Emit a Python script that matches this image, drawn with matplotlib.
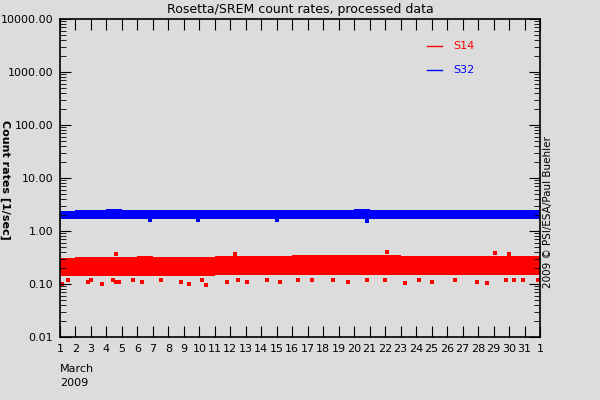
import matplotlib
matplotlib.use("Agg")
import matplotlib.pyplot as plt
import numpy as np

days = list(range(1, 33))
# daily envelope of processed count rates (1/sec)
s14_low  = [0.14,0.14,0.14,0.14,0.14,0.14,0.14,0.14,0.14,0.14,0.15,0.15,0.15,0.15,0.15,0.15,
            0.15,0.15,0.15,0.15,0.15,0.15,0.15,0.15,0.15,0.15,0.15,0.15,0.15,0.15,0.15]
s14_high = [0.31,0.32,0.32,0.33,0.32,0.34,0.33,0.33,0.33,0.33,0.34,0.34,0.34,0.34,0.34,0.35,
            0.35,0.35,0.35,0.35,0.35,0.35,0.34,0.34,0.34,0.34,0.34,0.34,0.34,0.34,0.34]
s32_low  = [1.65,1.68,1.68,1.68,1.70,1.66,1.70,1.70,1.70,1.70,1.70,1.70,1.70,1.70,1.68,1.70,
            1.70,1.70,1.70,1.70,1.70,1.70,1.70,1.70,1.70,1.66,1.70,1.70,1.70,1.70,1.70]
s32_high = [2.40,2.45,2.45,2.55,2.45,2.50,2.45,2.45,2.45,2.45,2.45,2.50,2.45,2.45,2.45,2.45,
            2.45,2.45,2.45,2.55,2.45,2.45,2.45,2.45,2.45,2.45,2.45,2.45,2.45,2.50,2.45]
# isolated outliers (day, value)
s14_out_x = [1.1,1.5,2.8,3.0,3.7,4.4,4.6,4.8,5.7,6.3,7.5,8.8,9.3,10.4,10.2,11.8,12.5,13.1,14.4,15.2,16.4,
             17.3,18.6,19.6,20.8,22.0,23.3,24.2,25.0,26.5,27.9,28.6,29.8,30.3,30.9,31.9,4.6,12.3,22.1,29.1,30.0]
s14_out_y = [0.10,0.12,0.11,0.12,0.10,0.12,0.11,0.11,0.12,0.11,0.12,0.11,0.10,0.095,0.12,0.11,0.12,0.11,0.12,0.11,0.12,
             0.12,0.12,0.11,0.12,0.12,0.105,0.12,0.11,0.12,0.11,0.105,0.12,0.12,0.12,0.12,0.37,0.37,0.41,0.39,0.37]
s32_out_x = [6.8,20.8,9.9,15.0]
s32_out_y = [1.58,1.52,1.60,1.60]
xticks = list(range(1, 33))
xticklabels = [str(d) for d in range(1, 32)] + ["1"]
yticks = [0.01, 0.1, 1, 10, 100, 1000, 10000]
yticklabels = ["0.01", "0.10", "1.00", "10.00", "100.00", "1000.00", "10000.00"]

bg = "#dcdcdc"
fig = plt.figure(figsize=(6, 4), dpi=100, facecolor=bg)
ax = fig.add_axes([0.1, 0.1575, 0.8, 0.795], facecolor=bg)
x = np.array(days[:-1]); x2 = np.array(days[1:])
for lo, hi, col in [(s14_low, s14_high, "red"), (s32_low, s32_high, "blue")]:
    for a, b, l, h in zip(x, x2, lo, hi):
        ax.fill_between([a, b], [l, l], [h, h], color=col, lw=0)
ax.scatter(s14_out_x, s14_out_y, s=6, color="red", marker="s", lw=0)
ax.scatter(s32_out_x, s32_out_y, s=6, color="blue", marker="s", lw=0)
ax.set_yscale("log")
ax.set_ylim(0.01, 10000)
ax.set_xlim(1, 32)
ax.set_yticks(yticks)
ax.set_yticklabels(yticklabels)
ax.set_xticks(xticks)
ax.set_xticklabels(xticklabels)
ax.tick_params(which="both", direction="in", top=True, right=True, labelsize=8, pad=5)
ax.tick_params(which="major", length=8)
ax.tick_params(which="minor", length=4)
ax.xaxis.set_minor_locator(plt.NullLocator())
for s in ax.spines.values():
    s.set_linewidth(1.2)
ax.set_title("Rosetta/SREM count rates, processed data", fontsize=9, pad=4)
fig.text(0.1, 0.09, "March", fontsize=8, va="top")
fig.text(0.1, 0.055, "2009", fontsize=8, va="top")
fig.text(0.008, 0.55, "Count rates [1/sec]", rotation=-90, fontsize=8, va="center", ha="center",
         fontweight="bold")
fig.text(0.913, 0.47, "2009 \u00a9 PSI/ESA/Paul Buehler", rotation=90, fontsize=7.5,
         va="center", ha="center")
ax.plot([0.765, 0.795], [0.915, 0.915], color="red", lw=1, transform=ax.transAxes)
ax.plot([0.765, 0.795], [0.84, 0.84], color="blue", lw=1, transform=ax.transAxes)
ax.text(0.82, 0.915, "S14", color="red", fontsize=8, transform=ax.transAxes, va="center")
ax.text(0.82, 0.84, "S32", color="blue", fontsize=8, transform=ax.transAxes, va="center")
fig.savefig("out.png", dpi=100, facecolor=bg)
